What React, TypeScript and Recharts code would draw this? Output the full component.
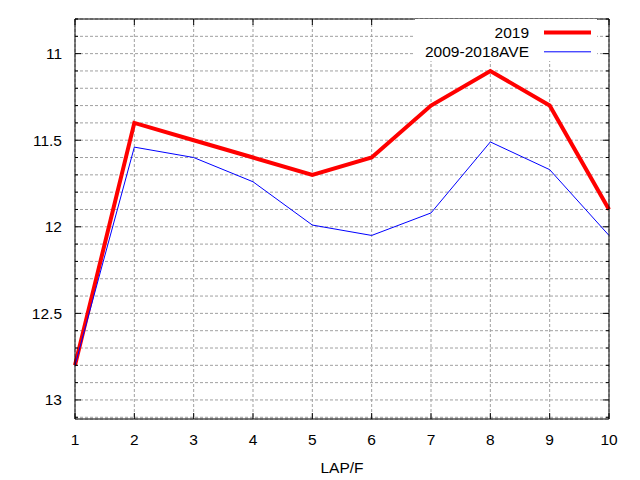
import React from "react"
import { CartesianGrid, Legend, Line, LineChart, XAxis, YAxis } from "recharts"

// lap numbers and lap times
const laps = [1, 2, 3, 4, 5, 6, 7, 8, 9, 10]
const times2019 = [12.8, 11.4, 11.5, 11.6, 11.7, 11.6, 11.3, 11.1, 11.3, 11.9]
const timesAve = [12.8, 11.54, 11.6, 11.74, 11.99, 12.05, 11.92, 11.51, 11.67, 12.05]

const yTicks = [
  10.8, 10.9, 11, 11.1, 11.2, 11.3, 11.4, 11.5, 11.6, 11.7, 11.8, 11.9, 12, 12.1, 12.2, 12.3, 12.4,
  12.5, 12.6, 12.7, 12.8, 12.9, 13, 13.1,
]
const yLabels = ["11", "11.5", "12", "12.5", "13"]
const xLabel = "LAP/F"

const series = [
  { key: "y2019", name: "2019", color: "#ff0000", width: 4 },
  { key: "ave", name: "2009-2018AVE", color: "#0000ff", width: 1 },
]

const data = laps.map((lap, i) => ({ lap, y2019: times2019[i], ave: timesAve[i] }))

const FONT = "'Liberation Sans', Arial, sans-serif"
const FONT_SIZE = 15.5
const Y_DOMAIN: [number, number] = [10.8, 13.11]

const isLabelled = (v: number) => yLabels.includes(String(v))

// left axis: inward tick + label for the half-second values
const LeftTick = ({ x, y, payload }: any) => {
  const major = isLabelled(payload.value)
  return (
    <g>
      <line x1={x} x2={x + (major ? 6 : 3)} y1={y} y2={y} stroke="#000" />
      {major && (
        <text x={x - 13} y={y} textAnchor="end" dominantBaseline="central" fontFamily={FONT} fontSize={FONT_SIZE} fill="#000">
          {String(payload.value)}
        </text>
      )}
    </g>
  )
}

// mirrored ticks on the right border
const RightTick = ({ x, y, payload }: any) => {
  const major = isLabelled(payload.value)
  return <line x1={x} x2={x - (major ? 6 : 3)} y1={y} y2={y} stroke="#000" />
}

const BottomTick = ({ x, y, payload }: any) => (
  <g>
    <line x1={x} x2={x} y1={y} y2={y - 6} stroke="#000" />
    <text x={x} y={y + 20} textAnchor="middle" dominantBaseline="central" fontFamily={FONT} fontSize={FONT_SIZE} fill="#000">
      {payload.value}
    </text>
  </g>
)

const TopTick = ({ x, y }: any) => <line x1={x} x2={x} y1={y} y2={y + 6} stroke="#000" />

const renderLegend = () => (
  <svg width={182} height={42} style={{ background: "#fff", display: "block" }}>
    {series.map((s, i) => {
      const cy = 13.5 + i * 19.3
      return (
        <g key={s.key}>
          <text x={114} y={cy} textAnchor="end" dominantBaseline="central" fontFamily={FONT} fontSize={FONT_SIZE} fill="#000">
            {s.name}
          </text>
          <line x1={129} x2={176} y1={cy} y2={cy} stroke={s.color} strokeWidth={s.width} />
        </g>
      )
    })}
  </svg>
)

export default function App() {
  return (
    <div style={{ position: "absolute", left: 0, top: 0, width: 640, height: 480, background: "#fff" }}>
      <LineChart width={640} height={480} data={data} margin={{ top: 0, right: 0, bottom: 0, left: 0 }}>
        <CartesianGrid stroke="#a0a0a0" strokeDasharray="3 2" />
        <XAxis
          dataKey="lap"
          type="number"
          domain={[1, 10]}
          ticks={laps}
          height={61}
          stroke="#000"
          tickLine={false}
          tickSize={0}
          tickMargin={0}
          tick={<BottomTick />}
          label={{ value: xLabel, position: "insideBottom", offset: 7, fontFamily: FONT, fontSize: FONT_SIZE, fill: "#000" }}
        />
        <XAxis
          xAxisId="top"
          orientation="top"
          type="number"
          dataKey="lap"
          domain={[1, 10]}
          ticks={laps}
          height={19}
          stroke="#000"
          tickLine={false}
          tickSize={0}
          tickMargin={0}
          tick={<TopTick />}
        />
        <YAxis
          type="number"
          domain={Y_DOMAIN}
          reversed
          allowDataOverflow
          ticks={yTicks}
          interval={0}
          width={75}
          stroke="#000"
          tickLine={false}
          tickSize={0}
          tickMargin={0}
          tick={<LeftTick />}
        />
        <YAxis
          yAxisId="right"
          orientation="right"
          type="number"
          domain={Y_DOMAIN}
          reversed
          allowDataOverflow
          ticks={yTicks}
          interval={0}
          width={31}
          stroke="#000"
          tickLine={false}
          tickSize={0}
          tickMargin={0}
          tick={<RightTick />}
        />
        <Legend
          layout="horizontal"
          verticalAlign="middle"
          align="center"
          wrapperStyle={{ top: 19, left: 415, width: 182, height: 42 }}
          content={renderLegend}
        />
        {series.map((s) => (
          <Line
            key={s.key}
            dataKey={s.key}
            name={s.name}
            stroke={s.color}
            strokeWidth={s.width}
            dot={false}
            activeDot={false}
            isAnimationActive={false}
          />
        ))}
      </LineChart>
    </div>
  )
}
